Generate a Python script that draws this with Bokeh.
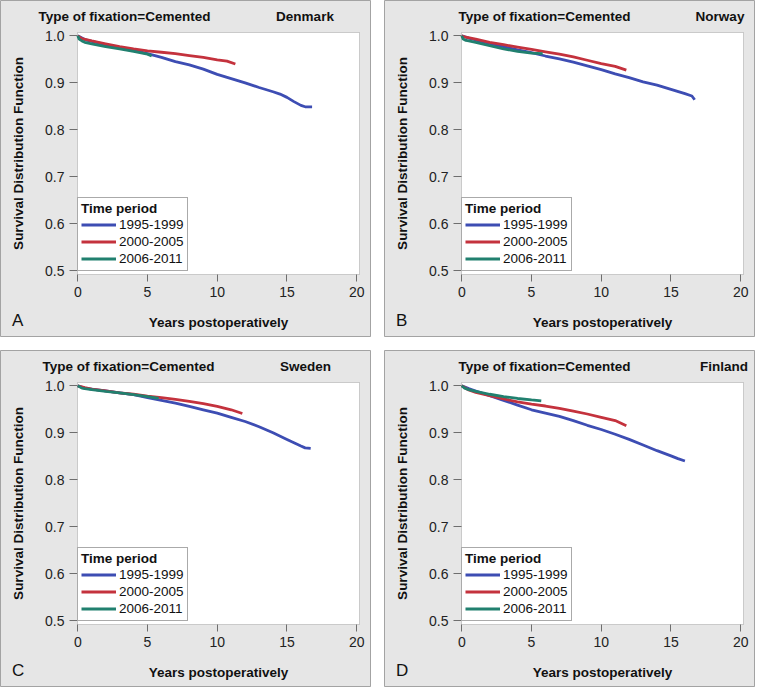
import math
from bokeh.plotting import figure
from bokeh.models import (Range1d, FixedTicker, NumeralTickFormatter, Label, LinearAxis,
                          BoxAnnotation)
from bokeh.layouts import column, row
from bokeh.embed import file_html
from bokeh.resources import INLINE

# ---------------- data ----------------
periods = ["1995-1999", "2000-2005", "2006-2011"]
countries = ["Denmark", "Norway", "Sweden", "Finland"]
panel_letters = ["A", "B", "C", "D"]
x_ticks = [0, 5, 10, 15, 20]
y_ticks = [0.5, 0.6, 0.7, 0.8, 0.9, 1.0]

# Denmark
dk_t_9599 = [0, 0.5, 1, 2, 3, 4, 5, 6, 7, 8, 9, 10, 11, 12, 13, 14, 14.5, 15, 15.5, 16, 16.3, 16.8]
dk_s_9599 = [1.0, 0.992, 0.988, 0.981, 0.975, 0.969, 0.962, 0.954, 0.945, 0.938, 0.929, 0.918, 0.909,
             0.900, 0.890, 0.881, 0.876, 0.869, 0.860, 0.852, 0.849, 0.849]
dk_t_0005 = [0, 0.3, 1, 2, 3, 4, 5, 6, 7, 8, 9, 10, 10.7, 11.3]
dk_s_0005 = [1.0, 0.994, 0.989, 0.983, 0.977, 0.972, 0.968, 0.965, 0.962, 0.958, 0.954, 0.949, 0.946, 0.940]
dk_t_0611 = [0, 0.1, 0.3, 0.5, 1, 2, 3, 4, 5, 5.3]
dk_s_0611 = [1.0, 0.993, 0.989, 0.986, 0.983, 0.977, 0.972, 0.967, 0.961, 0.957]

# Norway
no_t_9599 = [0, 0.5, 1, 2, 3, 4, 5, 6, 7, 8, 9, 10, 11, 12, 13, 14, 15, 16, 16.5, 16.7]
no_s_9599 = [1.0, 0.995, 0.991, 0.984, 0.977, 0.970, 0.964, 0.957, 0.951, 0.944, 0.936, 0.928, 0.919,
             0.911, 0.902, 0.895, 0.886, 0.877, 0.872, 0.864]
no_t_0005 = [0, 0.3, 1, 2, 3, 4, 5, 6, 7, 8, 9, 10, 11, 11.8]
no_s_0005 = [1.0, 0.997, 0.993, 0.986, 0.981, 0.976, 0.971, 0.966, 0.961, 0.955, 0.948, 0.941, 0.935, 0.927]
no_t_0611 = [0, 0.1, 0.3, 0.5, 1, 2, 3, 4, 5, 5.8]
no_s_0611 = [1.0, 0.993, 0.990, 0.989, 0.986, 0.979, 0.972, 0.967, 0.963, 0.962]

# Sweden
se_t_9599 = [0, 0.5, 1, 2, 3, 4, 5, 6, 7, 8, 9, 10, 11, 12, 13, 14, 15, 15.5, 16, 16.3, 16.7]
se_s_9599 = [1.0, 0.995, 0.993, 0.989, 0.985, 0.981, 0.975, 0.969, 0.963, 0.956, 0.949, 0.942, 0.933,
             0.924, 0.913, 0.900, 0.886, 0.879, 0.872, 0.868, 0.867]
se_t_0005 = [0, 0.5, 1, 2, 3, 4, 5, 6, 7, 8, 9, 10, 11, 11.8]
se_s_0005 = [1.0, 0.996, 0.993, 0.989, 0.985, 0.982, 0.978, 0.975, 0.971, 0.967, 0.962, 0.956, 0.949, 0.941]
se_t_0611 = [0, 0.3, 0.5, 1, 2, 3, 4, 5, 5.8]
se_s_0611 = [1.0, 0.995, 0.994, 0.992, 0.988, 0.985, 0.981, 0.977, 0.973]

# Finland
fi_t_9599 = [0, 0.5, 1, 2, 3, 4, 5, 6, 7, 8, 9, 10, 11, 12, 13, 14, 15, 15.5, 16]
fi_s_9599 = [1.0, 0.994, 0.989, 0.979, 0.969, 0.959, 0.949, 0.942, 0.935, 0.926, 0.916, 0.907, 0.897,
             0.886, 0.874, 0.862, 0.851, 0.845, 0.840]
fi_t_0005 = [0, 0.5, 1, 2, 3, 4, 5, 6, 7, 8, 9, 10, 11, 11.8]
fi_s_0005 = [1.0, 0.991, 0.986, 0.979, 0.972, 0.966, 0.961, 0.957, 0.952, 0.946, 0.940, 0.933, 0.926, 0.915]
fi_t_0611 = [0, 0.2, 0.5, 1, 2, 3, 4, 5, 5.7]
fi_s_0611 = [1.0, 0.995, 0.992, 0.988, 0.982, 0.977, 0.973, 0.970, 0.968]

series = {
    "Denmark": [(dk_t_9599, dk_s_9599), (dk_t_0005, dk_s_0005), (dk_t_0611, dk_s_0611)],
    "Norway": [(no_t_9599, no_s_9599), (no_t_0005, no_s_0005), (no_t_0611, no_s_0611)],
    "Sweden": [(se_t_9599, se_s_9599), (se_t_0005, se_s_0005), (se_t_0611, se_s_0611)],
    "Finland": [(fi_t_9599, fi_s_9599), (fi_t_0005, fi_s_0005), (fi_t_0611, fi_s_0611)],
}

# ---------------- styling / layout ----------------
colors = ["#3d4db3", "#c4323d", "#21806f"]
FONT = "Liberation Sans"
PANEL_BG = "#e6e6e6"
TXT = "#111111"

W, H = 371, 337                 # panel size (px)
GAP = 13
AREA_L, AREA_R, AREA_T, AREA_B = 77, 12, 32, 63   # plot-area margins inside panel (px)
X0, X1 = -0.02, 20.2            # plot-area data range
Y0, Y1 = 0.4923, 1.007

kx = (W - AREA_L - AREA_R) / (X1 - X0)
ky = (H - AREA_T - AREA_B) / (Y1 - Y0)
XR = (X0 - AREA_L / kx, X1 + AREA_R / kx)
YR = (Y0 - AREA_B / ky, Y1 + AREA_T / ky)


def sx(px):  # panel px from left -> data x
    return XR[0] + px / kx


def sy(px):  # panel px from top -> data y
    return YR[1] - px / ky


# text positions in panel pixels
title_px = {"Denmark": 38, "Norway": 74, "Sweden": 42, "Finland": 74}          # left edges
country_px = {"Denmark": 304.5, "Norway": 335.5, "Sweden": 305, "Finland": 339.5}  # centres


def make_panel(country, letter):
    p = figure(width=W, height=H, x_range=Range1d(*XR), y_range=Range1d(*YR),
               output_backend="svg", toolbar_location=None, title=None,
               x_axis_location=None, y_axis_location=None,
               min_border=0, min_border_left=0, min_border_right=0,
               min_border_top=0, min_border_bottom=0)
    p.border_fill_color = PANEL_BG
    p.background_fill_color = PANEL_BG
    p.outline_line_color = "#a3a3a3"
    p.outline_line_width = 1
    p.grid.visible = False

    p.add_layout(BoxAnnotation(left=X0, right=X1, bottom=Y0, top=Y1, fill_color="white",
                               fill_alpha=1.0, line_color="#6e6e6e", line_width=1,
                               level="underlay"))

    for (t, s), lab, col in zip(series[country], periods, colors):
        p.line(t, s, line_color=col, line_width=2.8, legend_label=lab)

    xa = LinearAxis(fixed_location=Y0, bounds=(X0, X1), ticker=FixedTicker(ticks=x_ticks))
    ya = LinearAxis(fixed_location=X0, bounds=(Y0, Y1), ticker=FixedTicker(ticks=y_ticks),
                    formatter=NumeralTickFormatter(format="0.0"))
    for ax in (xa, ya):
        ax.axis_line_color = None
        ax.major_tick_line_color = "#6e6e6e"
        ax.minor_tick_line_color = None
        ax.major_tick_in = 0
        ax.major_label_text_font = FONT
        ax.major_label_text_font_size = "14px"
        ax.major_label_text_color = "#222222"
    xa.major_tick_out = 7
    ya.major_tick_out = 8
    xa.major_label_standoff = 5
    ya.major_label_standoff = 5
    p.add_layout(xa, "below")
    p.add_layout(ya, "left")

    lg = p.legend[0]
    lg.title = "Time period"
    lg.title_text_font = FONT
    lg.title_text_font_style = "bold"
    lg.title_text_font_size = "13.5px"
    lg.title_text_color = TXT
    lg.title_standoff = 0
    lg.location = (AREA_L, AREA_B + 3)
    lg.margin = 0
    lg.padding = 3
    lg.spacing = 0
    lg.glyph_width = 35
    lg.glyph_height = 17
    lg.label_height = 17
    lg.label_standoff = 3
    lg.label_text_font = FONT
    lg.label_text_font_size = "13.5px"
    lg.label_text_color = TXT
    lg.border_line_color = "#555555"
    lg.background_fill_color = "white"
    lg.background_fill_alpha = 1.0

    ty = sy(15.7)
    p.add_layout(Label(x=sx(title_px[country]), y=ty, text="Type of fixation=Cemented",
                       text_font=FONT, text_font_style="bold", text_font_size="13.5px",
                       text_color=TXT, text_baseline="middle"))
    p.add_layout(Label(x=sx(country_px[country]), y=ty, text=country,
                       text_font=FONT, text_font_style="bold", text_font_size="13.5px",
                       text_color=TXT, text_baseline="middle", text_align="center"))
    p.add_layout(Label(x=sx(11.5), y=sy(320), text=letter,
                       text_font=FONT, text_font_size="17px",
                       text_color=TXT, text_baseline="middle"))
    p.add_layout(Label(x=(X0 + X1) / 2, y=sy(321.7), text="Years postoperatively",
                       text_font=FONT, text_font_style="bold", text_font_size="13.5px",
                       text_color=TXT, text_baseline="middle", text_align="center"))
    p.add_layout(Label(x=sx(18.3), y=(Y0 + Y1) / 2, text="Survival Distribution Function",
                       angle=math.pi / 2, text_font=FONT, text_font_style="bold",
                       text_font_size="13.5px", text_color=TXT, text_baseline="middle",
                       text_align="center"))
    return p


panels = [make_panel(c, l) for c, l in zip(countries, panel_letters)]
layout = column(row(panels[0], panels[1], spacing=GAP), row(panels[2], panels[3], spacing=GAP),
                spacing=GAP)

open("out.html", "w").write(file_html(layout, INLINE))
